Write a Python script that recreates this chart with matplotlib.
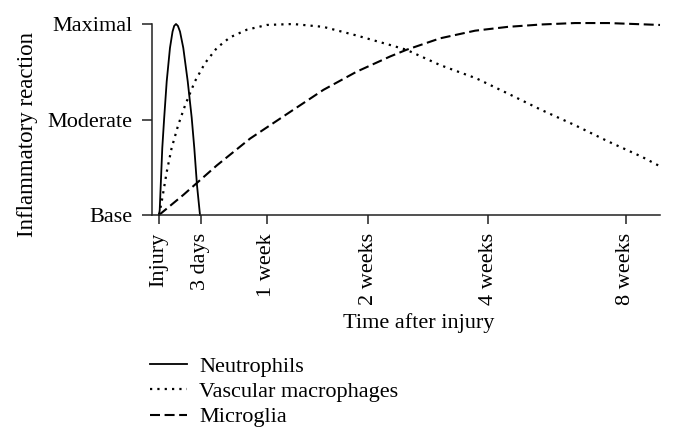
import matplotlib
matplotlib.use("Agg")
import matplotlib.pyplot as plt

plt.rcParams['font.family'] = ['Liberation Serif', 'DejaVu Serif']
plt.rcParams['font.size'] = 16

# x axis positions of the time labels (arbitrary, non-linear time scale)
tick_pos = [0, 8.93, 23.06, 44.8, 70.5, 100]
tick_labels = ['Injury', '3 days', '1 week', '2 weeks', '4 weeks', '8 weeks']

level_pos = [0, 1, 2]
level_labels = ['Base', 'Moderate', 'Maximal']

neut_x = [0, 0.15, 0.7, 1.1, 1.65, 2.35, 2.9, 3.25, 3.64, 4.05, 4.5, 5.2, 6.15, 7.0, 7.56, 8.14, 8.78]
neut_y = [0, 0.05, 0.70, 1.01, 1.40, 1.75, 1.92, 1.98, 2.0, 1.98, 1.92, 1.75, 1.40, 1.02, 0.70, 0.31, 0]

vasc_x = [0, 0.58, 1.65, 2.7, 4.1, 5.6, 7.7, 9.85, 12.4, 15.2, 18.8, 23.1, 28.7, 35.2, 42.3,
          49.5, 53.0, 60.2, 68.0, 74.8, 81.9, 89.1, 96.2, 103.4, 107.3]
vasc_y = [0, 0.14, 0.45, 0.70, 0.94, 1.15, 1.40, 1.59, 1.75, 1.86, 1.94, 1.99, 2.0, 1.97, 1.88,
          1.78, 1.73, 1.57, 1.43, 1.27, 1.10, 0.94, 0.77, 0.61, 0.51]

micro_x = [0, 5.2, 12.4, 19.5, 28.1, 35.2, 42.3, 49.5, 53.0, 60.2, 67.7, 74.7, 81.9, 89.1, 96.2, 107.3]
micro_y = [0, 0.21, 0.52, 0.80, 1.08, 1.31, 1.50, 1.66, 1.73, 1.85, 1.93, 1.97, 1.995, 2.01, 2.01, 1.99]

fig = plt.figure(figsize=(6.75, 4.44), dpi=100)
ax = fig.add_axes([152/675, 1 - 215/444, 508/675, 191/444])

ax.plot(neut_x, neut_y, '-', color='black', lw=1.3, label='Neutrophils', clip_on=False)
ax.plot(vasc_x, vasc_y, color='black', lw=1.6, linestyle=(0, (1, 2.3)), label='Vascular macrophages', clip_on=False)
ax.plot(micro_x, micro_y, color='black', lw=1.5, linestyle=(0, (4.8, 2.2)), label='Microglia', clip_on=False)

ax.set_xlim(-1.5, 107.3)
ax.set_ylim(0, 2)
ax.spines['top'].set_visible(False)
ax.spines['right'].set_visible(False)
for s in ['left', 'bottom']:
    ax.spines[s].set_linewidth(1.1)
    ax.spines[s].set_color('#222222')

ax.set_xticks(tick_pos)
ax.set_xticklabels(tick_labels, rotation=90)
ax.set_yticks(level_pos)
ax.set_yticklabels(level_labels)
ax.tick_params(axis='x', length=6.5, width=1.1, pad=6.5, color='#222222')
ax.tick_params(axis='y', length=7.2, width=1.1, pad=7, color='#222222')

ax.set_xlabel('Time after injury')
ax.xaxis.set_label_coords(0.524, -0.515)
ax.set_ylabel('Inflammatory reaction', fontsize=16.5)
ax.yaxis.set_label_coords(-0.224, 0.424)

fig.legend(loc='upper left', bbox_to_anchor=(150/675, 1 - 356/444), frameon=False,
           borderpad=0, borderaxespad=0, handlelength=1.65, handletextpad=0.55,
           labelspacing=0.22, fontsize=16)

plt.savefig("out.png", dpi=100)
plt.close()
